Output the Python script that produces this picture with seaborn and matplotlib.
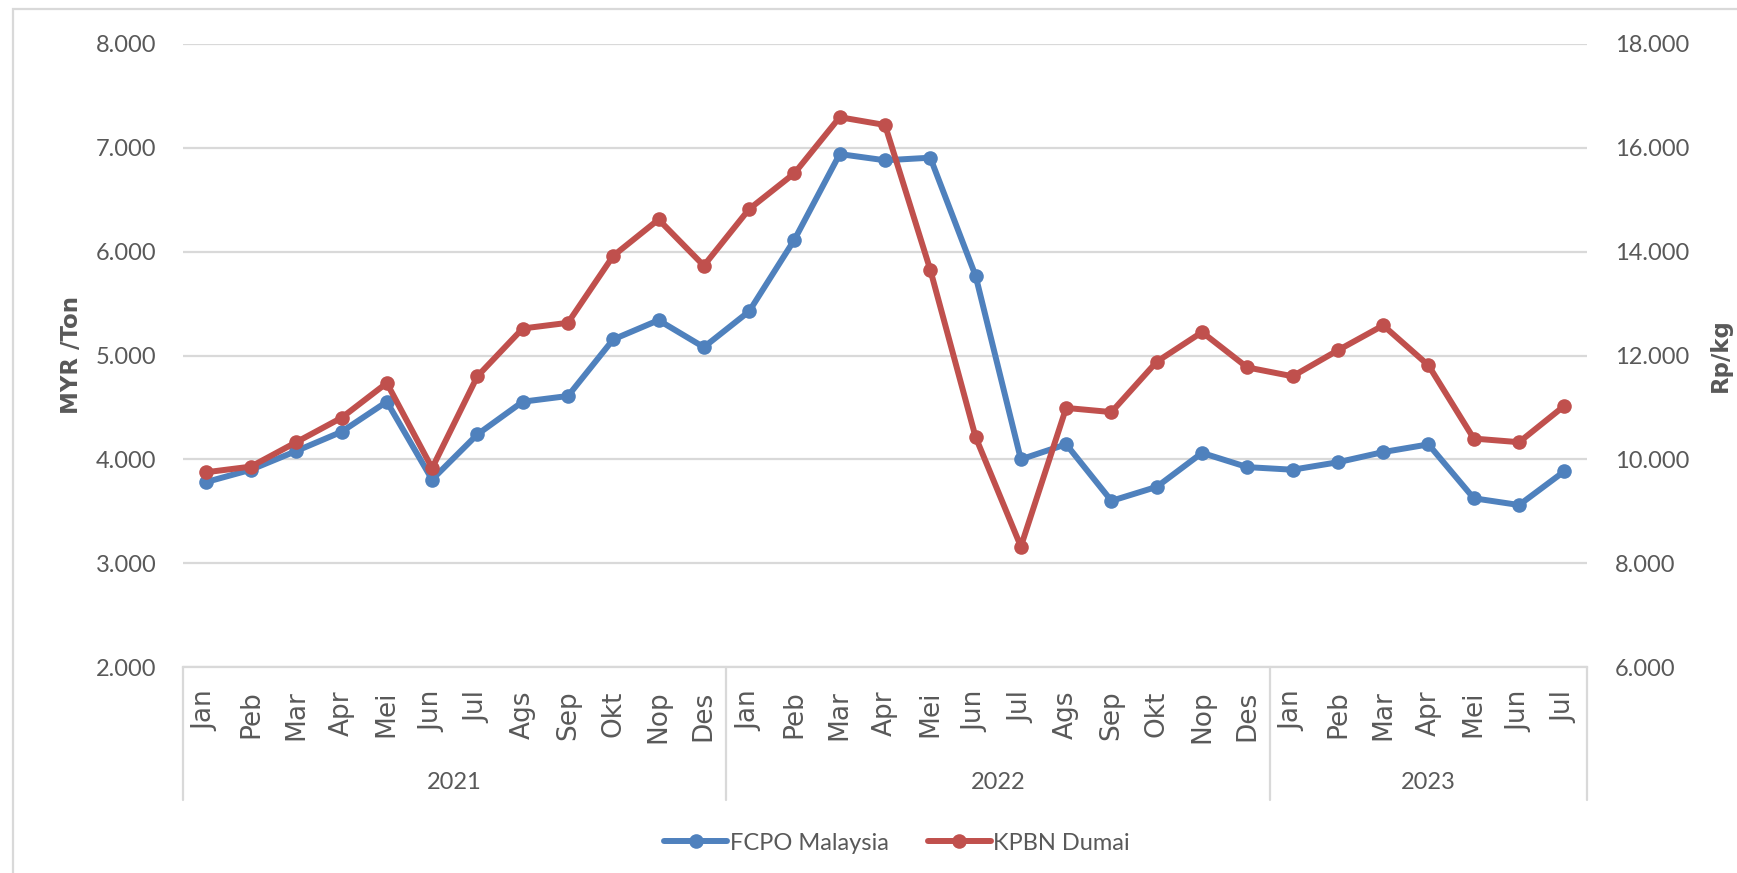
import numpy as np
import pandas as pd
import seaborn as sns
import matplotlib
matplotlib.use("Agg")
import matplotlib.pyplot as plt
from matplotlib.ticker import FuncFormatter, FixedLocator, NullFormatter
from matplotlib.patches import Rectangle
from matplotlib.lines import Line2D
from matplotlib.transforms import blended_transform_factory

# ======================
# Data
# ======================
month_names = ["Jan", "Peb", "Mar", "Apr", "Mei", "Jun", "Jul", "Ags", "Sep", "Okt", "Nop", "Des"]
years = ["2021", "2022", "2023"]
months_per_year = [12, 12, 7]

# FCPO Malaysia (MYR/Ton)
fcpo = [3780, 3900, 4080, 4265, 4555, 3805, 4240, 4555, 4610, 5155, 5340, 5080,
        5425, 6115, 6940, 6880, 6905, 5768, 4000, 4145, 3600, 3735, 4062, 3925,
        3900, 3972, 4070, 4144, 3625, 3560, 3885]

# KPBN Dumai (Rp/kg)
kpbn = [9750, 9860, 10330, 10800, 11470, 9830, 11600, 12520, 12630, 13920, 14620, 13730,
        14820, 15510, 16590, 16440, 13650, 10430, 8320, 10990, 10910, 11880, 12450, 11770,
        11600, 12100, 12580, 11810, 10400, 10330, 11030]

labels = []
year_of = []
for y, n in zip(years, months_per_year):
    labels += month_names[:n]
    year_of += [y] * n

df = pd.DataFrame({
    "idx": np.arange(len(labels)),
    "month": labels,
    "year": year_of,
    "FCPO Malaysia": fcpo,
    "KPBN Dumai": kpbn,
})

# ======================
# Style
# ======================
BLUE = "#4F81BD"
RED = "#C0504D"
GRID = "#D9D9D9"
TXT = "#595959"
LW = 4.3
MS = 10.5

sns.set_style("white")
plt.rcParams["font.family"] = ["Lato", "DejaVu Sans"]

fig = plt.figure(figsize=(17.37, 8.73), dpi=100)
ax = fig.add_axes([183 / 1737, 1 - 667 / 873, (1587 - 183) / 1737, (667 - 44) / 873])
ax2 = ax.twinx()

sns.lineplot(data=df, x="idx", y="FCPO Malaysia", ax=ax, color=BLUE, lw=LW,
             marker="o", markersize=MS, markeredgewidth=0, legend=False)
sns.lineplot(data=df, x="idx", y="KPBN Dumai", ax=ax2, color=RED, lw=LW,
             marker="o", markersize=MS, markeredgewidth=0, legend=False)

# ======================
# Axes
# ======================
ax.set_xlim(-0.5, len(labels) - 0.5)
ax.set_ylim(2000, 8000)
ax2.set_ylim(6000, 18000)
ax.set_yticks(np.arange(2000, 8001, 1000))
ax2.set_yticks(np.arange(6000, 18001, 2000))

fmt = FuncFormatter(lambda v, p: f"{v:,.0f}".replace(",", "."))
ax.yaxis.set_major_formatter(fmt)
ax2.yaxis.set_major_formatter(fmt)

ax.grid(axis="y", color=GRID, lw=1.6)
ax.grid(axis="x", visible=False)
ax2.grid(False)
ax.set_axisbelow(True)

for a in (ax, ax2):
    for s in ("top", "left", "right", "bottom"):
        a.spines[s].set_visible(False)
ax.spines["bottom"].set_visible(True)
ax.spines["bottom"].set_color(GRID)
ax.spines["bottom"].set_linewidth(1.6)

ax.tick_params(axis="y", length=0, pad=19, labelsize=17, labelcolor=TXT)
ax2.tick_params(axis="y", length=0, pad=20, labelsize=17, labelcolor=TXT)

# month labels drawn as annotations under each category
ax.xaxis.set_major_locator(FixedLocator(df["idx"].tolist()))
ax.xaxis.set_major_formatter(NullFormatter())
ax.tick_params(axis="x", length=0)
ax.set_xlabel("")
ax2.xaxis.set_visible(False)

trans = blended_transform_factory(ax.transData, ax.transAxes)
for i, m in zip(df["idx"], df["month"]):
    ax.annotate(m, xy=(i, 0), xycoords=trans, xytext=(0, -17), textcoords="offset points",
                rotation=90, ha="center", va="top", fontsize=19, color=TXT,
                family="DejaVu Sans", annotation_clip=False)

ax.set_ylabel("MYR /Ton", family="DejaVu Sans", fontsize=16.5, fontweight="bold", color=TXT, va="center")
ax.yaxis.set_label_coords((72 - 183) / 1404, 0.5)
ax2.set_ylabel("Rp/kg", family="DejaVu Sans", fontsize=16.5, fontweight="bold", color=TXT,
               va="center", rotation=90)
ax2.yaxis.set_label_coords((1720 - 183) / 1404, 0.5)

# year groups below month labels
bounds = np.concatenate([[0], np.cumsum(months_per_year)]) - 0.5
for b in bounds:
    ax.add_line(Line2D([b, b], [0, -0.2135], transform=trans, color=GRID, lw=1.6, clip_on=False))
for i, y in enumerate(years):
    ax.text((bounds[i] + bounds[i + 1]) / 2, -0.1846, y, transform=trans,
            ha="center", va="center", fontsize=17, color=TXT)

# legend
handles = [Line2D([], [], color=BLUE, lw=LW, marker="o", markersize=MS, markeredgewidth=0),
           Line2D([], [], color=RED, lw=LW, marker="o", markersize=MS, markeredgewidth=0)]
fig.legend(handles, ["FCPO Malaysia", "KPBN Dumai"], loc="center",
           bbox_to_anchor=(897 / 1737, 1 - 843 / 873), ncol=2, frameon=False,
           fontsize=17, labelcolor=TXT, handlelength=2.67, handletextpad=0.1,
           columnspacing=1.65)

# chart border
fig.add_artist(Rectangle((13 / 1737, -0.1), 1.2, 1 - 9 / 873 + 0.1, transform=fig.transFigure,
                         fill=False, ec=GRID, lw=1.6))

fig.savefig("out.png", dpi=100, facecolor="white")
